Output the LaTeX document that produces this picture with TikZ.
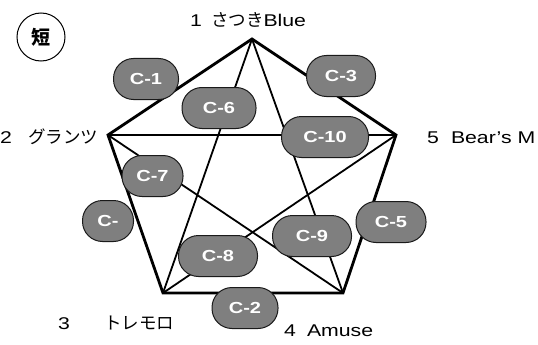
\documentclass[tikz,border=0pt]{standalone}
\usepackage{fontspec}
\newfontfamily\latf[FakeStretch=1.25]{Liberation Sans}
\newfontfamily\jpf{Noto Sans CJK JP}
\definecolor{capfill}{HTML}{7F7F7F}
\definecolor{capline}{HTML}{1A1A1A}
\tikzset{
  outerline/.style={line width=2.8pt, line join=miter},
  innerline/.style={line width=1.8pt},
  capsule/.style={rectangle, rounded corners=20pt, minimum height=41pt, inner sep=0pt,
    fill=capfill, draw=capline, line width=1pt, text=white,
    font=\latf\bfseries\fontsize{16}{16}\selectfont},
  lbl/.style={inner sep=0pt, anchor=base west, font=\latf\fontsize{17}{17}\selectfont},
}
\newcommand{\jptext}[1]{{\jpf\fontsize{17.5}{17.5}\selectfont #1}}
\begin{document}
\begin{tikzpicture}[x=1pt,y=-1pt]
\useasboundingbox (0,0) rectangle (538,345);
% vertices
\coordinate (v1) at (252,39);
\coordinate (v2) at (108,135);
\coordinate (v3) at (163,293);
\coordinate (v4) at (343,293);
\coordinate (v5) at (396,135);
% inner lines
\draw[innerline] (v1) -- (v3);
\draw[innerline] (v1) -- (v4);
\draw[innerline] (v2) -- (v5);
\draw[innerline] (v2) -- (v4);
\draw[innerline] (v3) -- (v5);
% outer pentagon
\draw[outerline] (v1) -- (v2) -- (v3) -- (v4) -- (v5) -- cycle;
% capsules
\node[capsule, minimum width=65pt] (c1) at (146,79) {C-1};
\node[capsule, minimum width=74pt] (c6) at (219,108) {C-6};
\node[capsule, minimum width=69pt] (c3) at (341,76) {C-3};
\node[capsule, minimum width=87pt] (c10) at (325,137) {C-10};
\node[capsule, minimum width=61pt] (c7) at (152.5,176) {C-7};
\node[capsule, minimum width=51pt] (cx) at (108,221) {C-};
\node[capsule, minimum width=79pt] (c8) at (218,256) {C-8};
\node[capsule, minimum width=66pt] (c2) at (245,308) {C-2};
\node[capsule, minimum width=79pt] (c9) at (312,236) {C-9};
\node[capsule, minimum width=70pt] (c5) at (391,222) {C-5};
% short mark
\node[circle, draw, line width=1pt, minimum size=48pt, inner sep=0pt,
  font=\jpf\bfseries\fontsize{19}{19}\selectfont] (tan) at (41,37) {短};
% labels
\node[lbl] (l1) at (190,27) {1\hspace{9pt}\jptext{さつき}Blue};
\node[lbl] (l2) at (0,143) {2\hspace{16pt}\jptext{グランツ}};
\node[lbl] (l5) at (427,143) {5\hspace{12pt}Bear’s M};
\node[lbl] (l3) at (58,329) {3\hspace{34pt}\jptext{トレモロ}};
\node[lbl] (l4) at (284,336) {4\hspace{11pt}Amuse};
\end{tikzpicture}
\end{document}
